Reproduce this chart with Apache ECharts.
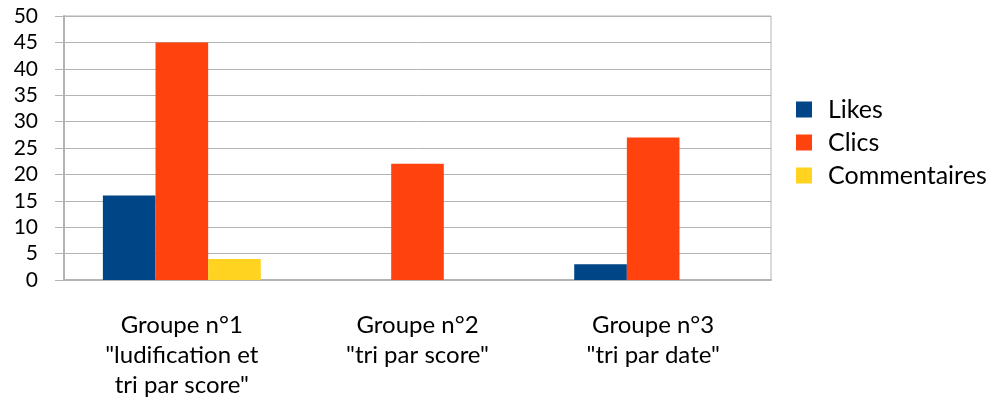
<!DOCTYPE html>
<html><head><meta charset="utf-8">
<script src="https://cdn.jsdelivr.net/npm/echarts@6/dist/echarts.min.js"></script>
<style>html,body{margin:0;padding:0;background:#fff}#c{width:992px;height:405px}</style>
</head><body><div id="c"></div>
<script>
const categories = ['Groupe n°1\n"ludification et\ntri par score"', 'Groupe n°2\n"tri par score"', 'Groupe n°3\n"tri par date"'];
const likes = [16, 0, 3];
const clics = [45, 22, 27];
const commentaires = [4, 0, 0];
const yTicks = { min: 0, max: 50, interval: 5 };

const chart = echarts.init(document.getElementById('c'), null, { renderer: 'canvas' });
const font = 'Lato, "Open Sans", sans-serif';
const bar = (name, data, color) => ({ name, type: 'bar', data, itemStyle: { color }, barGap: '0%', barCategoryGap: '33%' });
chart.setOption({
  animation: false,
  textStyle: { fontFamily: font },
  grid: { left: 64, right: 221, top: 16, bottom: 125, show: true, borderColor: '#b3b3b3', borderWidth: 1, backgroundColor: 'transparent' },
  legend: {
    orient: 'vertical', left: 796, top: 97, padding: 0, itemWidth: 16, itemHeight: 16, itemGap: 8,
    icon: 'rect', textStyle: { fontSize: 25, color: '#000', fontFamily: font, padding: [0, 0, 0, 11] },
    data: ['Likes', 'Clics', 'Commentaires']
  },
  xAxis: {
    type: 'category', data: categories,
    axisLine: { lineStyle: { color: '#b3b3b3', width: 2 } },
    axisTick: { length: 10, lineStyle: { color: '#b3b3b3', width: 2 } },
    axisLabel: { fontSize: 24, color: '#000', lineHeight: 30, margin: 30, fontFamily: font }
  },
  yAxis: {
    type: 'value', min: yTicks.min, max: yTicks.max, interval: yTicks.interval,
    axisLine: { show: true, lineStyle: { color: '#b3b3b3', width: 2 } },
    axisTick: { show: true, length: 9, lineStyle: { color: '#b3b3b3', width: 1 } },
    splitLine: { lineStyle: { color: '#b3b3b3', width: 1 } },
    axisLabel: { fontSize: 21, color: '#000', margin: 26, fontFamily: font }
  },
  series: [
    bar('Likes', likes, '#004586'),
    bar('Clics', clics, '#ff420e'),
    bar('Commentaires', commentaires, '#ffd320')
  ]
});
</script></body></html>
